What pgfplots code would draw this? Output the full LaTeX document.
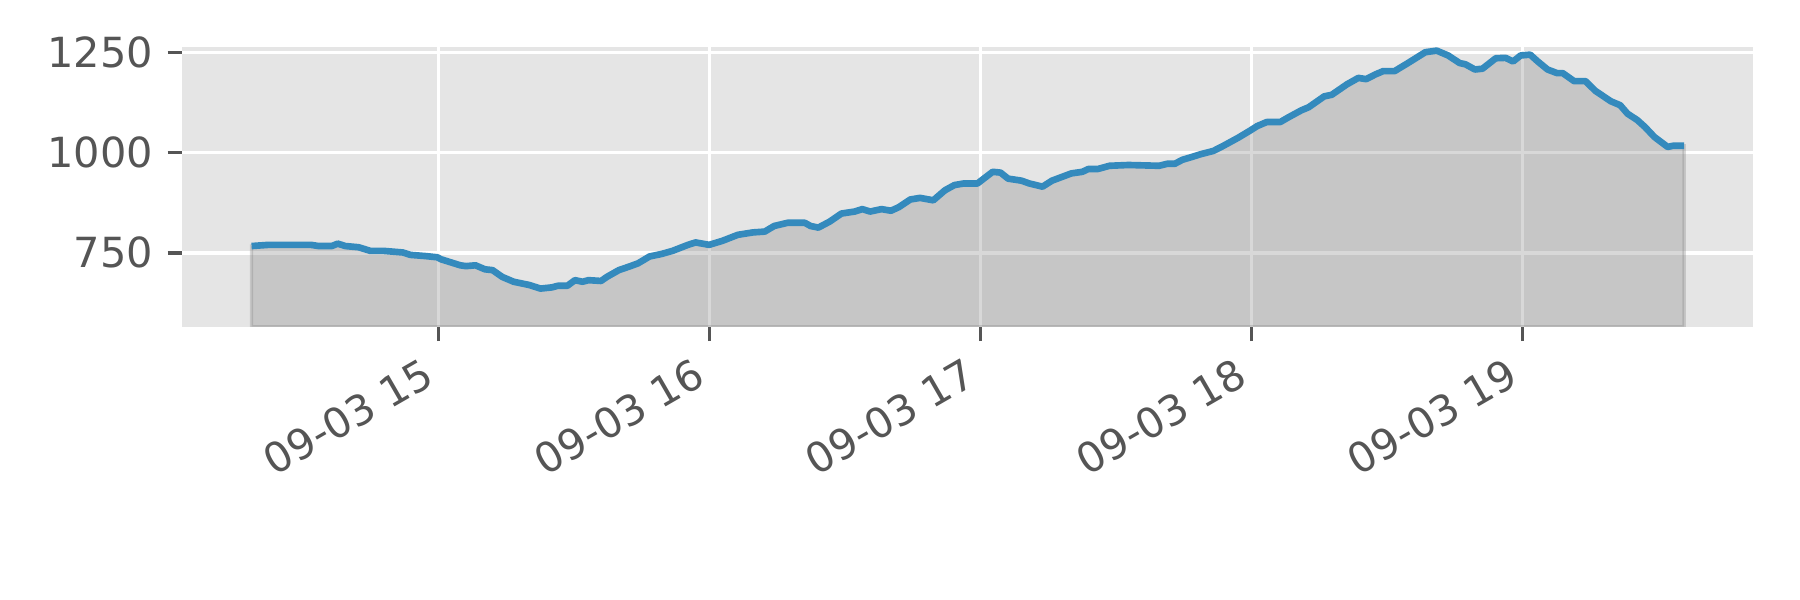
\documentclass[border=0pt]{standalone}
\usepackage{fontspec}
\setmainfont{DejaVu Sans}
\usepackage{pgfplots}
\usepackage{pgfplotstable}
\pgfplotsset{compat=1.18}

\definecolor{panel}{RGB}{229,229,229}
\definecolor{ticktext}{RGB}{85,85,85}
\definecolor{lineblue}{RGB}{52,138,189}

% hours of 09-03, value
\pgfplotstableread{
h v
14.311 767
14.374 770
14.530 770
14.558 767
14.607 767
14.629 773
14.657 767
14.706 764
14.749 755
14.798 755
14.869 751
14.897 745
14.953 742
14.996 739
15.010 734
15.081 719
15.102 717
15.137 719
15.172 709
15.200 707
15.236 690
15.278 678
15.335 670
15.377 661
15.419 664
15.441 668
15.476 668
15.504 682
15.532 678
15.554 682
15.600 680
15.624 691
15.666 707
15.709 717
15.737 724
15.779 741
15.822 747
15.864 755
15.921 770
15.949 776
15.999 770
16.048 780
16.105 795
16.161 801
16.204 803
16.239 817
16.289 825
16.352 825
16.373 817
16.402 813
16.444 828
16.487 848
16.536 853
16.564 859
16.593 853
16.635 859
16.670 855
16.699 864
16.741 883
16.777 887
16.826 881
16.869 906
16.904 919
16.939 923
16.989 923
17.045 952
17.074 950
17.102 935
17.151 930
17.180 923
17.229 915
17.264 930
17.335 948
17.376 952
17.398 959
17.433 959
17.476 967
17.546 969
17.659 967
17.689 972
17.717 972
17.745 982
17.780 989
17.813 996
17.859 1004
17.894 1016
17.951 1037
17.993 1054
18.021 1066
18.056 1076
18.106 1076
18.134 1087
18.183 1105
18.211 1113
18.268 1140
18.296 1144
18.352 1170
18.394 1186
18.423 1183
18.458 1195
18.486 1203
18.528 1203
18.577 1223
18.641 1250
18.683 1254
18.725 1242
18.768 1223
18.789 1220
18.824 1207
18.852 1209
18.901 1235
18.937 1236
18.965 1227
18.993 1242
19.028 1244
19.056 1227
19.092 1207
19.127 1198
19.148 1198
19.190 1178
19.232 1178
19.268 1154
19.325 1128
19.360 1118
19.387 1097
19.423 1081
19.451 1064
19.486 1039
19.535 1014
19.556 1017
19.596 1017
}\datatab

\begin{document}
\begin{tikzpicture}
% whole figure is 6in x 2in, axis box placed inside it
\path[use as bounding box] (-0.6073in,-0.911in) rectangle (5.3927in,1.089in);
\begin{axis}[
    at={(0,0)}, anchor=south west,
    scale only axis,
    width=5.236in, height=0.9323in,
    xmin=14.055, xmax=19.85,
    ymin=566, ymax=1263,
    axis background/.style={fill=panel},
    axis line style={draw=none},
    grid=major,
    major grid style={white, line width=0.8pt},
    xtick={15,16,17,18,19},
    xticklabels={09-03 15,09-03 16,09-03 17,09-03 18,09-03 19},
    ytick={750,1000,1250},
    tick pos=left,
    tick align=outside,
    major tick length=3.5pt,
    tick style={ticktext, line width=0.8pt},
    ticklabel style={font=\fontsize{10}{12}\selectfont, text=ticktext},
    x tick label style={xshift=-2.9pt, yshift=1.2pt, rotate=30, anchor=north east},
    /pgf/number format/assume math mode=true,
    /pgf/number format/1000 sep={},
]
\addplot[draw=gray, draw opacity=0.3, fill=gray, fill opacity=0.3, line width=0.8pt] table {\datatab} \closedcycle;
\addplot[lineblue, line width=1.6pt, line join=round] table {\datatab};
\end{axis}
\end{tikzpicture}
\end{document}
